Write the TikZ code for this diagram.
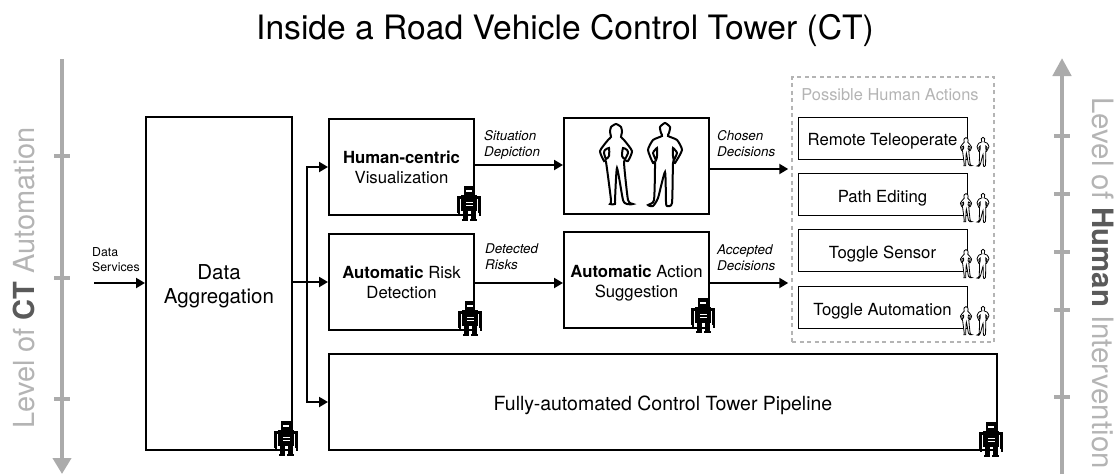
\documentclass[tikz,border=0pt]{standalone}
\usepackage{fontspec}
\setmainfont{TeX Gyre Heros}
\usetikzlibrary{arrows.meta,positioning}
\definecolor{axisgray}{HTML}{ABABAB}
\definecolor{textgray}{HTML}{B4B4B4}
\definecolor{darkgray}{HTML}{5A5A5A}
\newcommand{\fsize}[1]{\fontsize{#1}{#1}\selectfont}
\tikzset{
    block/.style={draw,line width=2pt,minimum width=145pt,minimum height=96pt,inner sep=0pt,align=center,font=\fsize{16.7},execute at begin node={\setlength{\baselineskip}{20pt}}},
    choice/.style={draw,line width=.9pt,minimum width=169pt,minimum height=42pt,inner sep=0pt,font=\fsize{16.7},text height=19pt,text depth=4pt},
    flow/.style={line width=2pt,-{Triangle[length=9pt,width=10pt]}},
    tag/.style={anchor=west,inner sep=0pt,align=left,font=\fsize{13.4}\itshape,execute at begin node={\setlength{\baselineskip}{16pt}}},
    axis/.style={axisgray,line width=4.5pt},
    robot/.pic={
        \fill[black] (-5,-17.5) rectangle (5,-8.5);
        \fill[black] (-8,-9) rectangle (8,7);
        \fill[black] (-12,-7.5) rectangle (-9,9);
        \fill[black] (9,-7.5) rectangle (12,9);
        \fill[black] (-9.5,-8) rectangle (9.5,-5);
        \fill[black] (-11.5,9) rectangle (-9.5,12);
        \fill[black] (9.5,9) rectangle (11.5,12);
        \fill[black] (-6.5,7) rectangle (-1.5,15);
        \fill[black] (1.5,7) rectangle (6.5,15);
        \fill[black] (-7.5,15) rectangle (-1,17.5);
        \fill[black] (1,15) rectangle (7.5,17.5);
        \fill[white] (-3,-14) rectangle (3,-12);
        \fill[white] (-3.5,-2) rectangle (3.5,-.5);
        \fill[white] (-3.5,1) rectangle (3.5,2.5);
    },
    woman/.pic={
        \draw[fill=white,pic actions] plot[smooth cycle,tension=.35] coordinates {
            (0,-41) (5,-38) (6,-33) (5,-28) (8,-25) (16,-14) (12,-4) (8,-3) (12,35) (17,39) (11,39)
            (7,35) (1,3) (-1,35) (-1,39) (-6,39) (-5,35) (-10,-3) (-12,-4) (-16,-14) (-8,-25) (-5,-28) (-6,-33) (-5,-38)};
        \draw[pic actions] plot[smooth cycle,tension=.35] coordinates {(-11,-15) (-7,-17) (-7,-9) (-10,-6) (-12,-12)};
        \draw[pic actions] plot[smooth cycle,tension=.35] coordinates {(11,-15) (7,-17) (6,-9) (9,-6) (12,-12)};
    },
    man/.pic={
        \draw[fill=white,pic actions] plot[smooth cycle,tension=.35] coordinates {
            (0,-42) (5,-38) (4,-32) (3,-29) (12,-25) (17,-15) (10,-2) (8,-2) (7,38) (2,41) (1,37)
            (0,7) (-7,33) (-12,41) (-17,40) (-11,35) (-10,-2) (-12,-2) (-17,-15) (-12,-25) (-3,-29) (-4,-32) (-5,-38)};
        \draw[pic actions] plot[smooth cycle,tension=.35] coordinates {(-10,-15) (-8,-17) (-8,-9) (-9,-5) (-12,-12)};
        \draw[pic actions] plot[smooth cycle,tension=.35] coordinates {(10,-15) (8,-17) (8,-9) (9,-5) (12,-12)};
    },
}

\begin{document}
\begin{tikzpicture}[x=1pt,y=-1pt]
        \useasboundingbox (0,0) rectangle (1118,474);

        \node [font=\fsize{33.6}] (title) at (565,31) {Inside a Road Vehicle Control Tower (CT)};

        % the two scales
        \coordinate (lefttop) at (62,59);
        \coordinate (leftend) at (62,474);
        \coordinate (rightbot) at (1062,474);
        \coordinate (righttip) at (1062,58);
        \draw [axis,-{Triangle[length=16pt,width=18pt]}] (lefttop) -- (leftend);
        \draw [axis,-{Triangle[length=18pt,width=18pt]}] (rightbot) -- (righttip);
        \foreach \y in {156,278,399}
            \draw [axis] (54,\y) -- (70,\y);
        \foreach \y in {136,194,252,310,397}
            \draw [axis] (1054,\y) -- (1070,\y);
        \node [rotate=90,text=textgray,font=\fsize{29},inner sep=0pt] (leftname) at (23.5,278) {Level of \textcolor{darkgray}{\bfseries CT} Automation};
        \node [rotate=-90,text=textgray,font=\fsize{29.4},inner sep=0pt] (rightname) at (1103,283) {Level of \textcolor{darkgray}{\bfseries Human} Intervention};

        % main blocks
        \node [block,minimum height=333pt,minimum width=146pt,font=\fsize{20.5},execute at begin node={\setlength{\baselineskip}{24pt}}] (aggr) at (219,283.5) {\rule{0pt}{21pt}Data\\Aggregation};
        \node [block] (human) at (401.5,167) {\rule{0pt}{14pt}{\bfseries Human-centric}\\Visualization};
        \node [block] (risk) at (401.5,282) {\rule{0pt}{14pt}{\bfseries Automatic} Risk\\Detection};
        \node [block] (people) at (636.5,165.5) {};
        \node [block] (suggest) at (636.5,279.5) {\rule{0pt}{20pt}{\bfseries Automatic} Action\\Suggestion};
        \node [block,minimum width=668pt,font=\fsize{19.5},text height=21pt,text depth=5pt] (pipeline) at (663,402) {Fully-automated Control Tower Pipeline};

        % human actions
        \node [draw=textgray,line width=1.5pt,dash pattern=on 4pt off 3.5pt,minimum width=202pt,minimum height=265pt,inner sep=0pt] (actions) at (893,209.5) {};
        \node [text=textgray,font=\fsize{16.4},inner sep=0pt] (actionstitle) at (890,95) {Possible Human Actions};
        \node [choice] (remote) at (882.5,138) {Remote Teleoperate};
        \node [choice] (path) at (882.5,194.5) {Path Editing};
        \node [choice] (sensor) at (882.5,250.5) {Toggle Sensor};
        \node [choice] (toggle) at (882.5,307.5) {Toggle Automation};

        % connectors
        \coordinate (datain) at (94,283);
        \coordinate (bus) at (307,282);
        \node [anchor=west,inner sep=0pt,align=left,font=\fsize{12.3},execute at begin node={\setlength{\baselineskip}{15pt}}] (datalabel) at (92,260) {Data\\Services};
        \draw [flow] (datain) -- (datain -| aggr.west);
        \draw [flow] (aggr.east |- risk.west) -- (risk.west);
        \draw [flow] (bus) |- (human.west);
        \draw [flow] (bus) |- (pipeline.west);
        \draw [flow] ([yshift=2pt]human.east) -- ([yshift=2pt]human.east -| people.west);
        \draw [flow] (risk.east) ++(0,1) -- (suggest.west |- 0,283);
        \draw [flow,shorten >=3pt] (people.east |- 0,169) -- (actions.west |- 0,169);
        \draw [flow,shorten >=3pt] (suggest.east |- 0,283) -- (actions.west |- 0,283);

        \node [tag] (situation) at (484,144.5) {Situation\\Depiction};
        \node [tag] (detected) at (485,257) {Detected\\Risks};
        \node [tag] (chosen) at (717,143.5) {Chosen\\Decisions};
        \node [tag] (accepted) at (717,258) {Accepted\\Decisions};

        % robots and people on top
        \path (286,438.5) pic {robot};
        \path (469,203.5) pic {robot};
        \path (470,318.5) pic {robot};
        \path (703,315.5) pic {robot};
        \path (991,439.5) pic {robot};

        \path [line width=2pt] (616,165) pic {woman};
        \path [line width=2pt] (665,165) pic {man};
        \foreach \y in {152,208,264,321} {
            \path [line width=.8pt] (966,\y) pic [scale=.35] {woman};
            \path [line width=.8pt] (983,\y) pic [scale=.35] {man};
        }
    \end{tikzpicture}
\end{document}
